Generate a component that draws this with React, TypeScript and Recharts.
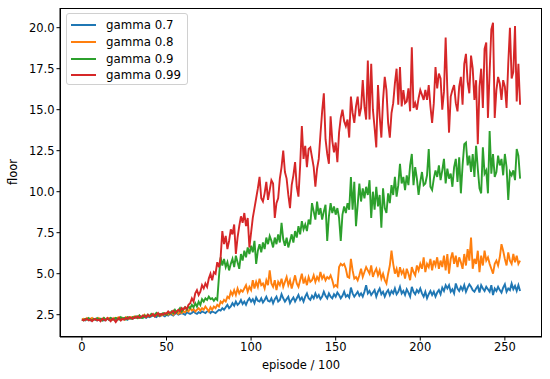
import { Line, LineChart, XAxis, YAxis } from "recharts";

const episodes = Array.from({ length: 260 }, (_, i) => i);

const gamma07 = [
  2.2, 2.2, 2.15, 2.25, 2.2, 2.15, 2.2, 2.25, 2.2, 2.15,
  2.2, 2.25, 2.2, 2.15, 2.2, 2.25, 2.2, 2.3, 2.2, 2.25,
  2.2, 2.3, 2.25, 2.2, 2.3, 2.25, 2.3, 2.2, 2.3, 2.3,
  2.25, 2.3, 2.35, 2.3, 2.35, 2.3, 2.4, 2.35, 2.3, 2.4,
  2.35, 2.4, 2.45, 2.4, 2.35, 2.45, 2.4, 2.5, 2.45, 2.4,
  2.5, 2.45, 2.55, 2.5, 2.45, 2.55, 2.6, 2.5, 2.55, 2.6,
  2.55, 2.5, 2.65, 2.6, 2.55, 2.6, 2.7, 2.6, 2.55, 2.65,
  2.6, 2.7, 2.65, 2.6, 2.7, 2.75, 2.6, 2.7, 2.65, 2.6,
  2.7, 2.8, 2.75, 2.9, 2.8, 2.95, 3.1, 2.9, 3.0, 3.2,
  3.05, 3.3, 3.1, 3.2, 3.4, 3.15, 3.3, 3.1, 3.35, 3.5,
  3.3, 3.45, 3.2, 3.55, 3.35, 3.3, 3.5, 3.25, 3.4, 3.6,
  3.35, 3.3, 3.5, 3.2, 3.45, 3.6, 3.3, 3.4, 3.75, 3.5,
  3.3, 3.45, 3.6, 3.2, 3.4, 3.55, 3.3, 3.5, 3.7, 3.4,
  3.55, 3.3, 3.6, 3.8, 3.5, 3.4, 3.65, 3.5, 3.8, 3.55,
  3.7, 3.45, 3.6, 3.9, 3.65, 3.5, 3.8, 3.6, 3.5, 3.75,
  3.6, 3.85, 3.7, 3.5, 3.65, 3.9, 3.6, 3.7, 3.55, 4.15,
  3.8, 3.6, 3.75, 3.9, 3.65, 3.8, 3.6, 3.9, 4.3, 3.8,
  3.95, 3.7, 3.85, 4.0, 3.6, 3.9, 4.1, 3.75, 3.9, 3.6,
  3.85, 4.0, 3.7, 3.95, 3.8, 4.1, 3.75, 3.9, 4.2, 3.8,
  3.95, 3.7, 4.05, 3.85, 3.6, 4.2, 3.9, 3.75, 4.0, 3.85,
  4.1, 3.8, 3.6, 3.9, 3.5, 3.75, 3.95, 3.7, 3.9, 3.6,
  3.85, 4.0, 3.75, 4.15, 3.95, 4.3, 4.1, 4.3, 3.9, 4.05,
  3.8, 4.4, 4.1, 3.95, 4.2, 4.0, 4.3, 3.9, 4.15, 4.35,
  4.2, 4.0, 3.9, 4.1, 4.25, 3.85, 4.3, 4.1, 3.95, 4.2,
  4.05, 3.9, 4.3, 3.7, 4.1, 3.95, 4.2, 4.0, 3.85, 4.15,
  4.35, 3.9, 4.1, 4.0, 4.4, 4.05, 4.25, 3.95, 4.3, 3.95,
];

const gamma08 = [
  2.2, 2.25, 2.2, 2.3, 2.2, 2.25, 2.3, 2.2, 2.25, 2.2,
  2.3, 2.2, 2.25, 2.3, 2.2, 2.25, 2.3, 2.25, 2.2, 2.3,
  2.25, 2.3, 2.35, 2.25, 2.3, 2.2, 2.35, 2.3, 2.25, 2.35,
  2.3, 2.4, 2.35, 2.3, 2.45, 2.35, 2.4, 2.5, 2.35, 2.45,
  2.4, 2.5, 2.45, 2.4, 2.55, 2.45, 2.5, 2.45, 2.55, 2.5,
  2.6, 2.5, 2.55, 2.65, 2.5, 2.6, 2.7, 2.55, 2.65, 2.6,
  2.7, 2.65, 2.8, 2.7, 2.9, 2.75, 2.85, 2.7, 2.8, 2.9,
  2.75, 2.9, 2.8, 3.0, 2.85, 2.7, 2.95, 2.8, 3.0, 2.9,
  3.1, 3.0, 3.3, 3.2, 3.4, 3.3, 3.6, 3.5, 3.9, 3.7,
  4.0, 3.7, 4.1, 3.8, 4.0, 3.9, 4.1, 4.3, 3.9, 4.2,
  4.0, 4.6, 4.1, 4.5, 4.2, 4.7, 4.3, 4.4, 4.1, 4.6,
  4.3, 5.2, 4.4, 4.2, 4.6, 4.0, 4.5, 4.3, 4.7, 4.2,
  4.5, 4.8, 4.3, 4.6, 4.1, 4.5, 4.9, 4.4, 4.2, 4.6,
  5.0, 4.4, 4.7, 4.3, 4.8, 4.5, 4.6, 4.9, 4.5, 4.8,
  4.6, 5.1, 4.7, 4.9, 4.6, 4.8, 4.7, 4.9, 4.6, 4.2,
  4.3, 4.2, 5.4, 5.6, 5.5, 5.6, 5.3, 4.8, 4.75, 5.9,
  5.2, 4.7, 4.8, 4.6, 4.9, 5.3, 4.8, 5.1, 5.4, 5.2,
  5.0, 5.5, 4.8, 5.1, 5.3, 4.9, 5.2, 4.7, 5.0, 4.6,
  4.4, 5.0, 5.5, 6.4, 5.6, 5.0, 5.3, 4.8, 5.4, 5.0,
  5.2, 4.7, 5.3, 5.0, 4.6, 5.4, 5.1, 4.9, 5.5, 5.2,
  5.6, 5.3, 6.0, 5.1, 5.6, 5.4, 5.9, 5.2, 5.8, 5.5,
  6.0, 5.3, 5.8, 5.4, 6.1, 5.2, 6.2, 5.0, 5.9, 6.3,
  5.6, 6.1, 5.4, 6.0, 5.7, 5.3, 6.2, 5.5, 6.5, 5.8,
  7.2, 5.3, 5.9, 5.6, 6.4, 5.1, 6.1, 5.5, 6.4, 5.8,
  6.0, 5.6, 5.3, 5.0, 5.6, 5.8, 5.5, 6.0, 6.8, 6.4,
  5.9, 5.5, 6.3, 5.8, 5.6, 6.2, 5.7, 6.1, 5.6, 5.8,
];

const gamma09 = [
  2.2, 2.15, 2.25, 2.2, 2.3, 2.2, 2.15, 2.25, 2.2, 2.3,
  2.2, 2.25, 2.15, 2.3, 2.2, 2.25, 2.2, 2.3, 2.25, 2.2,
  2.3, 2.25, 2.2, 2.35, 2.25, 2.3, 2.2, 2.35, 2.3, 2.25,
  2.35, 2.3, 2.4, 2.3, 2.45, 2.35, 2.3, 2.45, 2.4, 2.5,
  2.4, 2.55, 2.45, 2.5, 2.6, 2.45, 2.55, 2.5, 2.6, 2.55,
  2.5, 2.65, 2.55, 2.7, 2.6, 2.8, 2.65, 2.75, 2.9, 2.7,
  2.85, 2.95, 2.8, 3.0, 2.9, 3.1, 2.95, 3.2, 3.0, 3.3,
  3.1, 3.45, 3.3, 3.5, 3.4, 3.6, 3.45, 3.5, 3.35, 3.5,
  3.4, 4.8, 6.0, 5.5, 5.9, 5.4, 5.7, 5.2, 5.6, 5.9,
  5.4, 6.1, 5.7, 5.3, 6.2, 5.8, 6.4, 6.0, 6.6, 6.2,
  6.7, 6.3, 7.0, 5.6, 6.4, 6.8, 6.3, 6.9, 6.5, 7.2,
  6.8, 7.3, 7.0, 6.6, 7.2, 6.8, 7.4, 6.9, 8.1, 7.1,
  6.7, 7.2, 6.6, 7.0, 7.4, 6.9, 7.6, 7.2, 7.9, 7.4,
  8.2, 7.7, 8.0, 7.6, 8.3, 8.0, 9.3, 8.8, 8.3, 9.4,
  8.6, 9.0, 8.3, 8.8, 9.2, 7.0, 8.5, 9.3, 8.7, 9.1,
  8.6, 9.0, 8.4, 7.0, 8.6, 9.1, 8.7, 9.3, 8.9, 10.9,
  8.9, 10.6, 7.9, 9.2, 10.5, 9.4, 10.2, 9.6, 10.3, 9.8,
  10.7, 8.4, 10.0, 8.9, 10.3, 9.1, 9.8, 7.8, 10.2, 9.0,
  8.7, 9.9, 9.3, 10.4, 9.8, 10.9, 9.7, 10.4, 11.7, 10.5,
  10.9, 10.1, 11.0, 10.4, 11.6, 12.3, 10.4, 11.5, 10.8, 9.8,
  10.6, 11.2, 10.4, 10.5, 11.0, 12.6, 10.3, 10.1, 10.8, 11.3,
  10.9, 11.6, 10.7, 11.3, 12.0, 10.5, 11.4, 10.8, 11.1, 10.3,
  11.5, 12.0, 10.6, 12.1, 9.9, 11.6, 12.9, 13.0, 11.6, 12.2,
  11.2, 12.3, 10.9, 12.8, 11.4, 10.2, 9.9, 12.7, 11.1, 11.3,
  9.9, 13.7, 11.1, 12.3, 10.9, 11.2, 12.2, 11.6, 12.0, 11.0,
  12.3, 11.5, 9.5, 11.2, 11.0, 11.3, 10.7, 12.6, 12.2, 10.8,
];

const gamma099 = [
  2.2, 2.15, 2.2, 2.25, 2.15, 2.2, 2.1, 2.2, 2.25, 2.15,
  2.2, 2.1, 2.25, 2.2, 2.15, 2.3, 2.2, 2.1, 2.25, 2.2,
  2.05, 2.2, 2.3, 2.15, 2.25, 2.2, 2.3, 2.25, 2.35, 2.3,
  2.25, 2.35, 2.3, 2.4, 2.3, 2.35, 2.45, 2.4, 2.35, 2.5,
  2.4, 2.45, 2.55, 2.4, 2.5, 2.6, 2.45, 2.55, 2.5, 2.6,
  2.55, 2.7, 2.6, 2.65, 2.75, 2.6, 2.7, 2.8, 2.7, 2.9,
  2.8, 2.95, 2.85, 3.1, 3.2, 3.5, 3.3, 3.8, 4.0, 3.7,
  3.9, 4.3, 4.1, 4.4, 4.2, 4.7, 5.0, 4.6, 5.1, 5.0,
  5.7, 5.4, 6.0, 7.6, 6.8, 7.3, 6.5, 7.0, 7.7, 7.4,
  8.0, 6.2, 7.2, 7.9, 8.5, 8.1, 8.7, 7.9, 8.4, 6.6,
  7.5, 8.4, 9.0, 9.6, 10.2, 10.9, 9.6, 9.4, 9.9, 10.6,
  9.5, 10.1, 10.7, 10.5, 8.4, 9.3, 9.6, 10.8, 11.5, 12.5,
  11.2, 10.8, 9.8, 9.0, 10.4, 11.0, 11.8, 10.3, 9.7, 11.6,
  14.0, 12.0, 12.8, 11.5, 12.6, 12.7, 12.1, 11.5, 10.3, 11.4,
  12.0, 13.5, 14.9, 16.0, 13.2, 12.3, 11.7, 14.6, 13.1, 12.4,
  13.0, 11.8, 13.6, 14.5, 15.0, 14.3, 14.0, 14.4, 13.3, 15.8,
  14.8, 14.2, 15.2, 15.8, 14.6, 15.1, 16.8, 15.2, 14.4, 18.0,
  14.4, 17.8, 15.0, 13.9, 12.7, 16.5, 14.6, 13.3, 15.6, 17.0,
  16.2, 14.2, 13.3, 14.8, 15.4, 16.6, 17.5, 15.3, 17.6, 15.2,
  16.2, 15.4, 15.5, 16.3, 14.9, 18.8, 15.1, 15.4, 15.0, 15.7,
  16.2, 15.9, 15.6, 16.2, 15.6, 16.5, 15.2, 14.2, 15.4, 17.6,
  16.3, 17.2, 16.9, 15.0, 16.1, 19.4, 16.2, 13.6, 15.8, 16.2,
  16.5, 15.4, 14.9, 16.4, 17.0, 15.3, 17.8, 18.4, 16.7, 16.0,
  18.3, 17.5, 15.6, 16.8, 12.9, 16.4, 17.5, 15.1, 18.7, 19.1,
  14.5, 17.3, 19.9, 20.3, 14.5, 16.2, 17.0, 16.6, 15.6, 16.8,
  16.4, 15.1, 17.8, 20.0, 16.9, 17.3, 20.1, 15.5, 17.8, 15.3,
];

const xTicks = [0, 50, 100, 150, 200, 250];
const yTicks = [2.5, 5, 7.5, 10, 12.5, 15, 17.5, 20];

const series = [
  { key: "g07", name: "gamma 0.7", color: "#1f77b4", values: gamma07 },
  { key: "g08", name: "gamma 0.8", color: "#ff7f0e", values: gamma08 },
  { key: "g09", name: "gamma 0.9", color: "#2ca02c", values: gamma09 },
  { key: "g099", name: "gamma 0.99", color: "#d62728", values: gamma099 },
];

const rows = episodes.map((ep, i) => {
  const row: Record<string, number> = { episode: ep };
  series.forEach((s) => (row[s.key] = s.values[i]));
  return row;
});

const FONT = "'DejaVu Sans', sans-serif";
const tickStyle = { fontSize: 11.5, fill: "#000", fontFamily: FONT };

export default function App() {
  return (
    <div style={{ position: "relative", width: 550, height: 379, fontFamily: FONT }}>
      <style>{`body{margin:0;background:#fff}`}</style>
      <LineChart width={550} height={379} data={rows} margin={{ top: 8, right: 8, bottom: 0, left: 0 }}>
        <XAxis
          dataKey="episode"
          type="number"
          domain={[-12.95, 271.95]}
          ticks={xTicks}
          allowDataOverflow
          height={42}
          tick={tickStyle}
          tickSize={3.5}
          tickLine={{ stroke: "#000" }}
          axisLine={{ stroke: "#000" }}
        />
        <YAxis
          type="number"
          domain={[1.14, 21.2]}
          ticks={yTicks}
          allowDataOverflow
          width={60}
          tick={tickStyle}
          tickSize={3.5}
          tickLine={{ stroke: "#000" }}
          axisLine={{ stroke: "#000" }}
          tickFormatter={(v: number) => v.toFixed(1)}
        />
        {series.map((s) => (
          <Line
            key={s.key}
            dataKey={s.key}
            name={s.name}
            stroke={s.color}
            strokeWidth={1.9}
            dot={false}
            type="linear"
            isAnimationActive={false}
          />
        ))}
      </LineChart>

      {/* top + right spines */}
      <div
        style={{
          position: "absolute",
          left: 60,
          top: 8,
          width: 482,
          height: 329,
          boxSizing: "border-box",
          border: "1px solid #000",
          pointerEvents: "none",
        }}
      />

      <div
        style={{
          position: "absolute",
          left: 301,
          top: 358,
          transform: "translateX(-50%)",
          fontSize: 11.5,
          whiteSpace: "nowrap",
          color: "#000",
        }}
      >
        episode / 100
      </div>
      <div
        style={{
          position: "absolute",
          left: 13,
          top: 172,
          transform: "translate(-50%, -50%) rotate(-90deg)",
          fontSize: 11.5,
          whiteSpace: "nowrap",
          color: "#000",
        }}
      >
        floor
      </div>

      <div
        style={{
          position: "absolute",
          left: 66,
          top: 13,
          width: 122,
          height: 72,
          boxSizing: "border-box",
          border: "1px solid #d0d0d0",
          borderRadius: 3,
          background: "rgba(255,255,255,0.8)",
          paddingTop: 3,
        }}
      >
        {series.map((s) => (
          <div key={s.key} style={{ display: "flex", alignItems: "center", height: 16.7 }}>
            <span
              style={{
                display: "inline-block",
                marginLeft: 4,
                width: 25,
                height: 2,
                background: s.color,
              }}
            />
            <span style={{ marginLeft: 10, fontSize: 11.8, color: "#000" }}>{s.name}</span>
          </div>
        ))}
      </div>
    </div>
  );
}
